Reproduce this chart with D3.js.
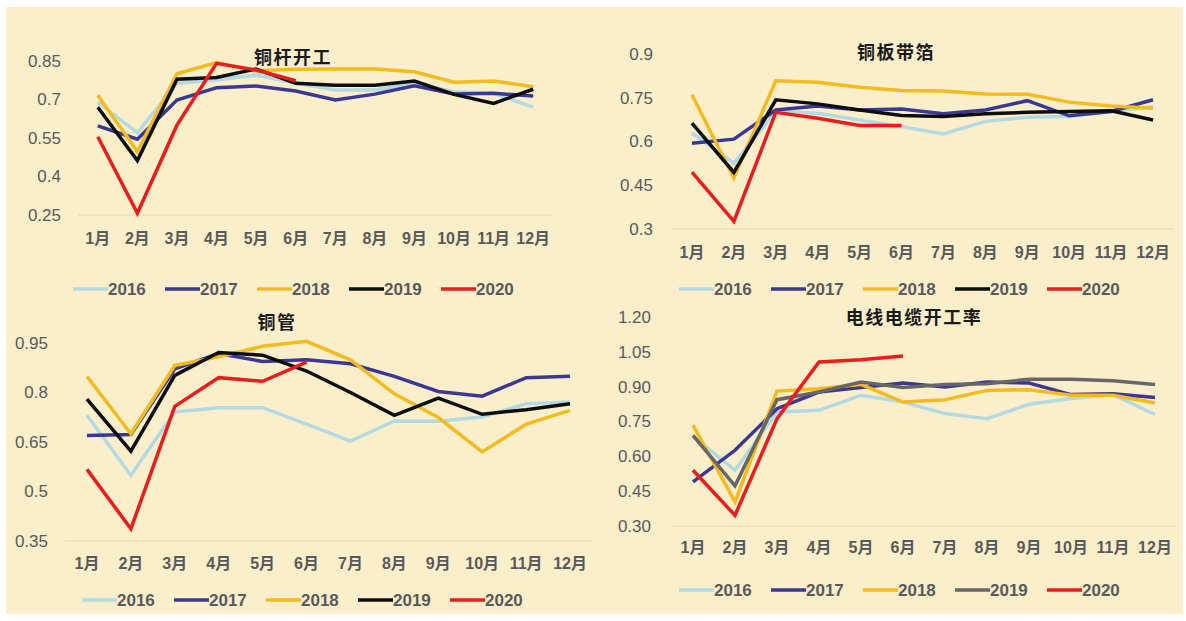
<!DOCTYPE html>
<html>
<head>
<meta charset="utf-8">
<script src="https://cdn.jsdelivr.net/npm/d3@7"></script>
<style>
  html, body { margin: 0; padding: 0; background: #ffffff; }
  svg { display: block; }
</style>
</head>
<body>
<div id="chart"></div>
<script>
// months and years shared by all four panels
const months = ['1月', '2月', '3月', '4月', '5月', '6月', '7月', '8月', '9月', '10月', '11月', '12月'];
const years = ['2016', '2017', '2018', '2019', '2020'];

// 铜杆开工 (one row per year)
const rodSeries = [
  [0.69, 0.57, 0.763, 0.776, 0.795, 0.763, 0.737, 0.737, 0.763, 0.73, 0.724, 0.67],
  [0.597, 0.545, 0.698, 0.746, 0.753, 0.733, 0.698, 0.721, 0.753, 0.721, 0.724, 0.714],
  [0.717, 0.497, 0.80, 0.844, 0.812, 0.818, 0.819, 0.819, 0.808, 0.767, 0.772, 0.75],
  [0.67, 0.462, 0.779, 0.786, 0.819, 0.763, 0.756, 0.756, 0.772, 0.72, 0.685, 0.74],
  [0.555, 0.257, 0.60, 0.841, 0.815, 0.773]
];
const rodTicks = [0.25, 0.4, 0.55, 0.7, 0.85];

// 铜板带箔
const plateSeries = [
  [0.629, 0.526, 0.703, 0.697, 0.674, 0.651, 0.626, 0.669, 0.683, 0.686, 0.703, 0.72],
  [0.594, 0.608, 0.708, 0.722, 0.708, 0.711, 0.695, 0.708, 0.74, 0.688, 0.703, 0.743],
  [0.76, 0.475, 0.808, 0.803, 0.786, 0.775, 0.773, 0.763, 0.762, 0.735, 0.722, 0.714],
  [0.663, 0.494, 0.743, 0.729, 0.708, 0.689, 0.686, 0.695, 0.70, 0.703, 0.705, 0.674],
  [0.495, 0.326, 0.70, 0.68, 0.655, 0.655]
];
const plateTicks = [0.3, 0.45, 0.6, 0.75, 0.9];

// 铜管
const tubeSeries = [
  [0.731, 0.549, 0.741, 0.754, 0.754, 0.704, 0.653, 0.714, 0.713, 0.726, 0.766, 0.771],
  [0.67, 0.673, 0.872, 0.918, 0.894, 0.899, 0.887, 0.849, 0.803, 0.789, 0.845, 0.849],
  [0.849, 0.675, 0.882, 0.908, 0.94, 0.955, 0.899, 0.796, 0.724, 0.62, 0.704, 0.746],
  [0.78, 0.622, 0.852, 0.921, 0.913, 0.865, 0.80, 0.731, 0.783, 0.734, 0.748, 0.766],
  [0.567, 0.387, 0.758, 0.845, 0.834, 0.892]
];
const tubeTicks = [0.35, 0.5, 0.65, 0.8, 0.95];

// 电线电缆开工率
const cableSeries = [
  [0.686, 0.54, 0.791, 0.798, 0.863, 0.834, 0.784, 0.762, 0.824, 0.849, 0.866, 0.78],
  [0.49, 0.626, 0.805, 0.877, 0.896, 0.916, 0.899, 0.92, 0.916, 0.866, 0.87, 0.853],
  [0.734, 0.404, 0.881, 0.891, 0.91, 0.834, 0.844, 0.884, 0.887, 0.863, 0.863, 0.83],
  [0.69, 0.473, 0.844, 0.877, 0.92, 0.896, 0.909, 0.913, 0.932, 0.932, 0.925, 0.909],
  [0.54, 0.346, 0.762, 1.006, 1.016, 1.032]
];
const cableTicks = [0.30, 0.45, 0.60, 0.75, 0.90, 1.05, 1.20];

const colorsBlack = ['#b3d9e3', '#3a3892', '#f4bb1e', '#0d0d0d', '#ec1c1c'];
const colorsGray = ['#b3d9e3', '#3a3892', '#f4bb1e', '#666666', '#ec1c1c'];

const W = 1186, H = 621;
const svg = d3.select('#chart').append('svg').attr('width', W).attr('height', H);

svg.append('rect')
  .attr('x', 6).attr('y', 7)
  .attr('width', 1177).attr('height', 607)
  .attr('fill', '#fbefcb');

const panels = [
  { title: '铜杆开工', series: rodSeries, ticks: rodTicks, fmt: d3.format('~g'), colors: colorsBlack,
    x0: 78, x1: 553, yTop: 61, yBot: 215, labelX: 61, titleX: 293, titleY: 58, monthY: 238, legendX: 73, legendY: 289 },
  { title: '铜板带箔', series: plateSeries, ticks: plateTicks, fmt: d3.format('~g'), colors: colorsBlack,
    x0: 671, x1: 1174, yTop: 54, yBot: 229, labelX: 653, titleX: 896, titleY: 53, monthY: 252, legendX: 679, legendY: 289 },
  { title: '铜管', series: tubeSeries, ticks: tubeTicks, fmt: d3.format('~g'), colors: colorsBlack,
    x0: 65, x1: 592, yTop: 343, yBot: 541, labelX: 48, titleX: 277, titleY: 323, monthY: 563, legendX: 82, legendY: 600 },
  { title: '电线电缆开工率', series: cableSeries, ticks: cableTicks, fmt: d3.format('.2f'), colors: colorsGray,
    x0: 672, x1: 1176, yTop: 317, yBot: 526, labelX: 651, titleX: 914, titleY: 318, monthY: 547, legendX: 679, legendY: 590 }
];

const textGray = '#595959';
const latinFont = '"Liberation Sans", Arial, "Noto Sans CJK SC", sans-serif';

panels.forEach(p => drawPanel(p));

function drawPanel(p) {
  const g = svg.append('g');

  const x = d3.scaleBand().domain(months).range([p.x0, p.x1]);
  const y = d3.scaleLinear()
    .domain([d3.min(p.ticks), d3.max(p.ticks)])
    .range([p.yBot, p.yTop]);

  // baseline
  g.append('line')
    .attr('x1', p.x0).attr('x2', p.x1)
    .attr('y1', p.yBot).attr('y2', p.yBot)
    .attr('stroke', '#e3d8b6').attr('stroke-width', 1);

  // y tick labels
  g.selectAll('.ytick')
    .data(p.ticks)
    .enter().append('text')
    .attr('x', p.labelX)
    .attr('y', d => y(d))
    .attr('dy', '0.35em')
    .attr('text-anchor', 'end')
    .attr('font-family', latinFont)
    .attr('font-size', 17)
    .attr('fill', textGray)
    .text(d => p.fmt(d));

  // month labels
  g.selectAll('.xtick')
    .data(months)
    .enter().append('text')
    .attr('x', d => x(d) + x.bandwidth() / 2)
    .attr('y', p.monthY)
    .attr('dy', '0.35em')
    .attr('text-anchor', 'middle')
    .attr('font-family', latinFont)
    .attr('font-size', 16)
    .attr('font-weight', 'bold')
    .attr('fill', textGray)
    .text(d => d);

  const line = d3.line()
    .x((d, i) => x(months[i]) + x.bandwidth() / 2)
    .y(d => y(d));

  p.series.forEach((vals, i) => {
    g.append('path')
      .datum(vals)
      .attr('d', line)
      .attr('fill', 'none')
      .attr('stroke', p.colors[i])
      .attr('stroke-width', 3.5)
      .attr('stroke-linejoin', 'miter');
  });

  // title
  g.append('text')
    .attr('x', p.titleX)
    .attr('y', p.titleY)
    .attr('dy', '0.35em')
    .attr('text-anchor', 'middle')
    .attr('font-family', '"Noto Sans CJK SC", sans-serif')
    .attr('font-weight', 'bold')
    .attr('font-size', 18)
    .attr('letter-spacing', 1.5)
    .attr('fill', '#1a1a1a')
    .text(p.title);

  // legend
  const step = 92;
  years.forEach((yr, i) => {
    const lx = p.legendX + i * step;
    g.append('line')
      .attr('x1', lx).attr('x2', lx + 35)
      .attr('y1', p.legendY).attr('y2', p.legendY)
      .attr('stroke', p.colors[i])
      .attr('stroke-width', 3.5);
    g.append('text')
      .attr('x', lx + 35)
      .attr('y', p.legendY)
      .attr('dy', '0.35em')
      .attr('font-family', latinFont)
      .attr('font-size', 17)
      .attr('font-weight', 'bold')
      .attr('fill', textGray)
      .text(yr);
  });
}
</script>
</body>
</html>
